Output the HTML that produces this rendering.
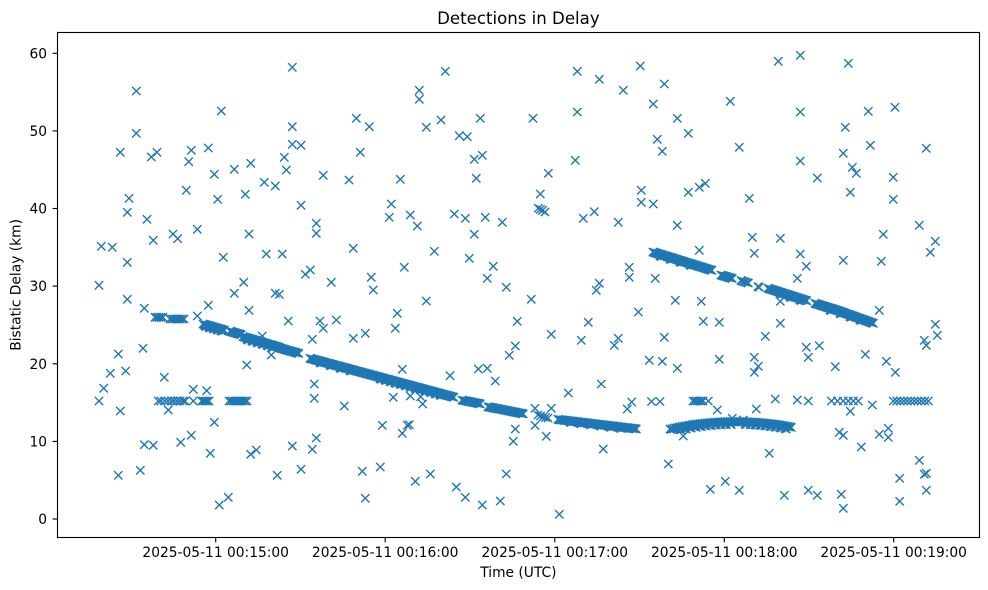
<!DOCTYPE html>
<html>
<head>
<meta charset="utf-8">
<style>
  html,body{margin:0;padding:0;background:#fff;}
  svg{display:block;}
  text{font-family:"DejaVu Sans","Liberation Sans",sans-serif;fill:#000;}
</style>
</head>
<body>
<svg width="988" height="590" viewBox="0 0 988 590" xmlns="http://www.w3.org/2000/svg" xmlns:xlink="http://www.w3.org/1999/xlink">
  <defs>
    <marker id="x" markerUnits="userSpaceOnUse" markerWidth="10" markerHeight="10" refX="5" refY="5" overflow="visible" orient="0">
      <path d="M0.83,0.83L9.17,9.17M0.83,9.17L9.17,0.83" stroke="#1f77b4" stroke-width="1.39" fill="none"/>
    </marker>
  </defs>
  <rect x="0" y="0" width="988" height="590" fill="#fff"/>

  <g fill="none" stroke="none" marker-start="url(#x)" marker-mid="url(#x)" marker-end="url(#x)">
    <!-- scattered points -->
    <polyline points="136.3,91 221.3,111 136.3,133.3 120.3,152.3 151.3,157 157,152.3 191.3,150.3 188.7,161.7 208.3,148 214.3,174.3 234.3,169.3 250.7,163.3 186.3,190.3 217.7,199.3 245.3,194.3 129,198.3 127.3,212.3 147,219.3 153.3,240.3 173,234 177.7,238.7 197.3,229.3 249,234 101.3,246.3 112.3,247.3 127.3,262.3 223.3,257.3 99,285.3 243.7,282.3 234.3,293.3 127.3,299.3 144.3,308.3 208.3,305.3 249,310.3 155,317.3 157,317.3 159,317.3 161,317.3 163,317.3 170,319 172,319 174,319 176,319 178,319 180,319 182,319 184,319 197.3,316 143,348.3 118.3,354 110.3,373.3 125.7,371 164.3,377.3 246.7,365 103.7,388.3 193.3,389.3 206.7,390.7 99,401 158.3,401 161,401 164.7,401 168,401 171.3,401 174,401 177,401 180,401 183,401 185,401 193.3,401 201.7,401 203.5,401 205.3,401 207.2,401 209,401 229,401 231,401 233,401 235,401 237,401 239,401 241,401 243,401 245,401 247,401 120.3,411 168.3,410 214.3,422.3 144.3,444.7 153.3,445.3 180.7,442.3 191.3,435.3 210.3,453.3 250.7,454.3 256.3,450 118.3,475.3 140.3,470.3 219.3,505 228.3,497.3"/>
    <polyline points="292.3,67.3 445.3,71.3 419.3,90.3 419.3,99.3 356.3,118.3 369.3,126.7 292.3,126.7 426.3,127.3 441,120 292.3,144.3 301,145.3 360.3,152.3 284.3,157.3 286.3,170 323.3,175.3 349,180 400.3,179.3 264.3,182.3 275.3,186 301,205.3 391.3,204 389.3,217.3 410.3,215 417.3,226 316.3,223.3 316.3,233.3 353.3,248.3 434.3,251.3 266.3,254 282.3,254 404.3,267.3 310.3,270 305.3,274.3 331.3,282.3 371.3,277.3 373.3,290 275.3,293.3 279.3,294.3 426.3,301 397.3,313.3 288.3,321 320,321 323.3,328.3 336.3,320 395.3,328.3 365.3,333.3 353.3,338.3 312.3,339.3 262.3,336 271.3,355 402.3,369.3 450,375.7 314.3,384 314.3,398.3 344.3,406 393.3,397.3 410.3,396 422.7,404 420.7,396.7 382.3,425.3 402.3,433.3 407.3,425.3 409.3,424.7 316.3,438 312.3,449.3 292.3,446 277.3,475.3 301,469.3 362.3,471.3 380.3,467 365.3,498.3 415.3,481.3 430.3,474"/>
    <polyline points="577.3,71.3 599.3,79.3 623.3,90.3 640.3,66 577.3,112 480.3,118.3 533,118.3 459.3,135.7 467.3,136.7 474.3,159.3 482.3,155.3 575.3,160.3 476.3,178.3 548.3,173.3 540.3,194 538.3,208.3 540.5,209.3 542.5,210.3 545,212 641.3,190.3 641.3,202.3 454.3,214 465.3,218.3 485.3,217.3 502.3,222.3 583.3,218.3 594.3,211.7 618.3,222.3 474.3,234.3 469.3,258.3 493.3,266.3 487.3,278.3 629.3,267.3 629.3,277.3 506.3,287.3 531.3,299.3 599.3,283.3 596.3,290.3 638.3,312 517.3,321.3 588.3,322.3 551.3,334.3 581.3,340.3 618.3,338.3 614.3,345.3 515.3,346 509.3,355.3 478.3,369 487.3,368.3 495.3,381 568.3,393 601.3,384 627.3,409 631.7,402 535,408.3 551.3,408.3 538,415 540.5,416 543,417 545.5,417.5 548,418 535,425.3 515.3,429 513.3,441.3 546.3,436.3 603.3,449 506.3,474 456.3,487 465.3,497.3 482.3,505 500.3,501 559.3,514.3"/>
    <polyline points="664.3,84 653.3,104 677.3,118.3 688.3,133.3 657.3,139.3 662.3,151.3 730.3,101.3 739.3,147.3 778.3,61.3 800.3,55.3 800.3,112 800.3,161 817.3,178 653.3,204 688.3,192.3 699.3,187.3 705.3,183.3 749.3,198.3 677.3,225.3 752.3,237.3 780.3,238.3 754.3,253.3 800.3,254 806.3,266.3 797.3,278.3 699.3,250.3 655.3,278.3 675.3,300.3 701.3,301.3 703.3,321.3 719.3,322.3 780.3,301.3 780.3,323.3 664.3,337.3 765.3,336.3 806.3,347.3 808.3,357.3 819.3,345.7 649.3,360.3 662.3,361.3 677.3,368.3 719.3,359.3 754.3,357.3 758.3,366.3 754.3,372.3 835.3,366.7 651.5,401.5 660,401.5 693,401 695,401 697,401 699,401 701,401 703,401 708.3,401 775.3,399 797.3,400 808.3,401 717.3,410 756.3,409 683.3,436 769.3,453.3 668.3,464 710.3,489.3 725.3,481.3 739.3,490.3 784.3,495.3 808.3,490.3 817.3,495.3 732.3,418.3 743.3,420"/>
    <polyline points="848.3,63.3 868.3,111.3 895,107.3 845.3,127.3 870.3,145.3 843.3,153.3 926.3,148.3 852.3,167.3 856.3,173.3 893.3,177.3 893.3,199.3 850.3,192.3 919.3,225.3 883.3,234.3 935.3,241.3 930.3,252.3 843.3,260.3 881.3,261.3 879.3,310.3 935.3,324.3 937.3,335.3 924.3,340.3 926.3,345.3 865.3,354.3 886.3,361.3 895.3,372.3 831.5,401 837.5,401 843.3,401 848.3,401 853.3,401 858.3,401 872.3,405 850.3,411.3 893.3,401 896.8,401 900.3,401 903.8,401 907.3,401 910.8,401 914.3,401 917.8,401 921.3,401 924.8,401 928.3,401 839.3,432.3 843.3,435.3 879.3,434.3 888.3,428.3 888.3,437.3 861.3,447 919.3,460.3 899.7,478.3 924.3,474.3 926.3,473.3 926.3,490.3 841.3,494.3 843.3,508.3 899.7,501.3"/>
  </g>

  <g id="tracks" fill="none" stroke="none" marker-start="url(#x)" marker-mid="url(#x)" marker-end="url(#x)">
    <!-- track 1 -->
    <polyline points="203,324 205,324.6 207,325.2 209,325.7 211,326.3 213,326.9 215,327.5 217,328.1 219,328.6 221,329.2 223,329.8 230,331.2 232,331.8 234,332.4 236,333 238,333.6 240,334.2 243,336.6 245.5,337.3 248,338 250.5,338.8 253,339.5 255.5,340.2 258,341 260.5,341.7 263,342.5 265.5,343.2 268,344 270.5,344.7 273,345.4 275.5,346.2 278,346.9 280,348 282.5,348.7 285,349.5 287.5,350.2 290,350.9 292.5,351.6 295,352.3 297.5,353"/>
    <polyline points="205,326 209,327.5 213,328.5 217,329.6 221,330.7 247,339.5 252,341 257,342.5 262,344 267,345.5 272,347"/>
    <!-- track 2 -->
    <polyline points="310,358.3 312.5,359 315,359.7 317.5,360.3 320,361 322.5,361.7 325,362.4 327.5,363 330,363.7 332.5,364.4 335,365.1 337.5,365.7 340,366.4 342.5,367.1 345,367.8 347.5,368.4 350,369.1 352.5,369.8 355,370.5 357.5,371.1 360,371.8 362.5,372.5 365,373.2 367.5,373.8 370,374.5 372.5,375.2 375,375.9 377.5,376.5 380,377.2 382.5,377.9 385,378.6 387.5,379.2 390,379.9 392.5,380.6 395,381.3 397.5,381.9 400,382.6 402.5,383.3 405,384 407.5,384.6 410,385.3 412.5,386 415,386.7 417.5,387.3 420,388 422.5,388.7 425,389.4 427.5,390 430,390.7 432.5,391.4 435,392.1 437.5,392.7 440,393.4 442.5,394.1 445,394.8 447.5,395.4 450,396.1 452.5,396.8"/>
    <polyline points="320,362.5 330,365.2 340,368 350,370.6 380,378.7 385,380 390,381.4 395,382.8 400,384.1 405,385.5 410,386.8 415,388.2 420,389.5 425,390.9 430,392.2 435,393.6 440,395"/>
    <polyline points="462,400 464.5,400.5 467,401 469.5,401.5 472,402 474.5,402.5 477,403 479,403.4 488,406.7 490.5,407.2 493,407.7 495.5,408.2 498,408.6 500.5,409.1 503,409.6 505.5,410.1 508,410.6 510.5,411.1 513,411.6 515.5,412.1 518,412.6 520.5,413.1 522,413.4"/>
    <!-- track 3 -->
    <polyline points="558,419.3 560.5,419.6 563,419.9 565.5,420.2 568,420.5 570.5,420.8 573,421.1 575.5,421.4 578,421.7 580.5,422 583,422.3 585.5,422.6 588,422.9 590.5,423.2 593,423.5 595.5,423.8 598,424.1 600.5,424.4 603,424.7 605.5,425 608,425.3 610.5,425.6 613,425.9 615.5,426.2 618,426.5 620.5,426.8 623,427.1 625.5,427.4 628,427.7 630.5,428 633,428.3 635,428.5"/>
    <polyline points="570,422 580,423.2 590,424.4 600,425.6 610,426.8 620,428"/>
    <!-- track A -->
    <polyline points="653,252 655.5,252.8 658,253.6 660.5,254.3 663,255.1 665.5,255.9 668,256.7 670.5,257.4 673,258.2 675.5,259 678,259.8 680.5,260.5 683,261.3 685.5,262.1 688,262.9 690.5,263.6 693,264.4 695.5,265.2 698,266 700.5,266.7 703,267.5 705.5,268.3 708,269.1 710.5,269.8 721,275 723.5,275.8 726,276.5 728.5,277.3 731,278 741,280.5 744,281.5 747,282.5 758,286.7 768,288.3 770.5,289.1 773,289.9 775.5,290.7 778,291.5 780.5,292.3 783,293.1 785.5,293.9 788,294.7 790.5,295.5 793,296.3 795.5,297.1 798,297.9 800.5,298.7 803,299.5 805.5,300.3 815,303.3 817.5,304.1 820,304.9 822.5,305.7 825,306.5 827.5,307.3 830,308 832.5,308.8 835,309.6 837.5,310.4 840,311.3 842.5,312.2 845,313.1 847.5,314 850,314.9 852.5,315.8 855,316.7 857.5,317.6 860,318.5 862.5,319.4 865,320.3 867.5,321.2 870,322.1 872,322.8"/>
    <polyline points="660,256 670,259 680,262 690,265 780,294 790,297 800,300 830,310 840,313.3 850,316.7 860,320"/>
    <!-- track B -->
    <polyline points="670,429 672.5,428.5 675,427.9 677.5,427.4 680,426.9 682.5,426.4 685,426 687.5,425.5 690,425.1 692.5,424.7 695,424.3 697.5,424 700,423.7 702.5,423.4 705,423.1 707.5,422.8 710,422.6 712.5,422.4 715,422.2 717.5,422 720,421.9 722.5,421.8 725,421.7 727.5,421.6 730,421.5 732.5,421.5 735,421.5 737.5,421.5 740,421.5 742.5,421.6 745,421.7 747.5,421.8 750,421.9 752.5,422 755,422.2 757.5,422.4 760,422.6 762.5,422.8 765,423.1 767.5,423.4 770,423.7 772.5,424 775,424.3 777.5,424.7 780,425.1 782.5,425.5 785,426 787.5,426.4 790,426.9"/>
    <polyline points="680,429.4 685,428.5 690,427.6 695,426.8 700,426.2 705,425.6 710,425.1 715,424.7 720,424.4 725,424.2 730,424 745,424.2 750,424.4 755,424.7 760,425.1 765,425.6 770,426.2 775,426.8 780,427.6 785,428.5"/>
  </g>
  <use href="#tracks" xlink:href="#tracks" transform="translate(1.25,0.5)"/>

  <!-- axes frame -->
  <rect x="57.5" y="32.5" width="922" height="505" fill="none" stroke="#000" stroke-width="1.11"/>

  <!-- x ticks -->
  <g stroke="#000" stroke-width="1.11">
    <line x1="215.7" y1="537.5" x2="215.7" y2="542.4"/>
    <line x1="385.2" y1="537.5" x2="385.2" y2="542.4"/>
    <line x1="554.8" y1="537.5" x2="554.8" y2="542.4"/>
    <line x1="724.3" y1="537.5" x2="724.3" y2="542.4"/>
    <line x1="893.7" y1="537.5" x2="893.7" y2="542.4"/>
  </g>
  <g font-size="13.8" text-anchor="middle">
    <text x="215.7" y="557">2025-05-11 00:15:00</text>
    <text x="385.2" y="557">2025-05-11 00:16:00</text>
    <text x="554.8" y="557">2025-05-11 00:17:00</text>
    <text x="724.3" y="557">2025-05-11 00:18:00</text>
    <text x="893.7" y="557">2025-05-11 00:19:00</text>
  </g>

  <!-- y ticks -->
  <g stroke="#000" stroke-width="1.11">
    <line x1="52.6" y1="519" x2="57.5" y2="519"/>
    <line x1="52.6" y1="441.4" x2="57.5" y2="441.4"/>
    <line x1="52.6" y1="363.8" x2="57.5" y2="363.8"/>
    <line x1="52.6" y1="286.1" x2="57.5" y2="286.1"/>
    <line x1="52.6" y1="208.5" x2="57.5" y2="208.5"/>
    <line x1="52.6" y1="130.9" x2="57.5" y2="130.9"/>
    <line x1="52.6" y1="53.3" x2="57.5" y2="53.3"/>
  </g>
  <g font-size="13.8" text-anchor="end">
    <text x="47" y="524">0</text>
    <text x="47" y="446.4">10</text>
    <text x="47" y="368.8">20</text>
    <text x="47" y="291.1">30</text>
    <text x="47" y="213.5">40</text>
    <text x="47" y="135.9">50</text>
    <text x="47" y="58.3">60</text>
  </g>

  <!-- labels -->
  <text x="518.4" y="577" font-size="13.8" text-anchor="middle">Time (UTC)</text>
  <text transform="translate(20.5,284.9) rotate(-90)" font-size="13.8" text-anchor="middle">Bistatic Delay (km)</text>
  <text x="518.4" y="24" font-size="16.6" text-anchor="middle">Detections in Delay</text>
</svg>
</body>
</html>
